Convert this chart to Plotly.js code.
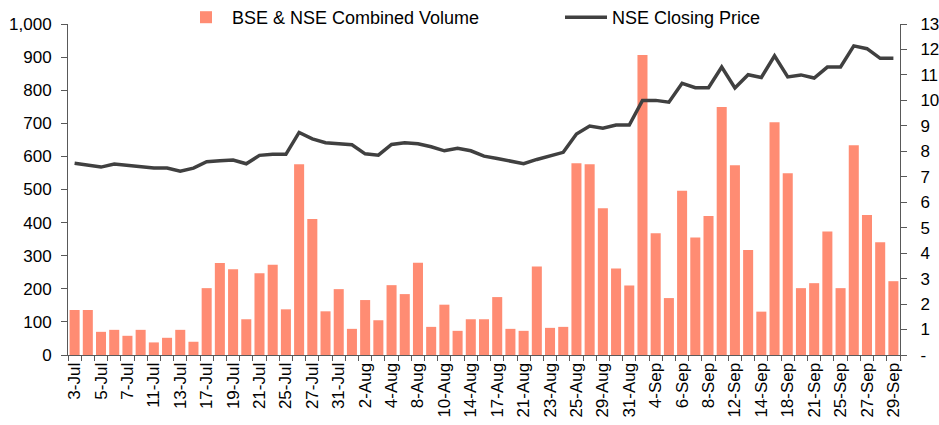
<!DOCTYPE html>
<html><head><meta charset="utf-8">
<script src="https://cdn.plot.ly/plotly-3.0.1.min.js"></script>
<style>body{margin:0;background:#fff}#chart{width:939px;height:425px}</style>
</head><body><div id="chart"></div>
<script>
const dates = ["3-Jul","4-Jul","5-Jul","6-Jul","7-Jul","10-Jul","11-Jul","12-Jul","13-Jul","14-Jul",
"17-Jul","18-Jul","19-Jul","20-Jul","21-Jul","24-Jul","25-Jul","26-Jul","27-Jul","28-Jul",
"31-Jul","1-Aug","2-Aug","3-Aug","4-Aug","7-Aug","8-Aug","9-Aug","10-Aug","11-Aug",
"14-Aug","16-Aug","17-Aug","18-Aug","21-Aug","22-Aug","23-Aug","24-Aug","25-Aug","28-Aug",
"29-Aug","30-Aug","31-Aug","1-Sep","4-Sep","5-Sep","6-Sep","7-Sep","8-Sep","11-Sep",
"12-Sep","13-Sep","14-Sep","15-Sep","18-Sep","20-Sep","21-Sep","22-Sep","25-Sep","26-Sep",
"27-Sep","28-Sep","29-Sep"];
const volume = [136,136,70,76,58,76,38,52,76,40,
202,278,259,108,247,273,138,576,411,132,
199,79,166,105,211,184,279,85,152,73,
108,108,175,79,73,267,82,85,579,576,
443,261,210,906,368,172,496,355,420,749,
573,317,131,703,549,202,217,373,202,634,
423,341,223];
const price = [7.53,7.45,7.38,7.50,7.45,7.38,7.34,7.34,7.22,7.34,
7.59,7.63,7.66,7.51,7.84,7.88,7.88,8.74,8.49,8.34,
8.30,8.26,7.90,7.85,8.27,8.34,8.30,8.18,8.02,8.12,
8.02,7.81,7.72,7.60,7.51,7.68,7.81,7.96,8.68,8.99,
8.91,9.03,9.03,10.0,10.0,9.93,10.67,10.5,10.5,11.31,
10.49,11.01,10.9,11.75,10.92,11.0,10.88,11.31,11.31,12.14,
12.03,11.65,11.65];
const volTicks = [0,100,200,300,400,500,600,700,800,900,1000];
const priceTicks = [0,1,2,3,4,5,6,7,8,9,10,11,12,13];
const priceTickText = ["-","1","2","3","4","5","6","7","8","9","10","11","12","13"];
const tickText = dates.map((d,i)=> i%2===0 ? d : "");

const fam = "Liberation Sans, Arial, sans-serif";
const traces = [
 {type:"bar", x:dates, y:volume, name:"BSE & NSE Combined Volume",
  marker:{color:"#FF8C73"}, yaxis:"y", legend:"legend"},
 {type:"scatter", mode:"lines", x:dates, y:price, name:"NSE Closing Price",
  line:{color:"#404040", width:3.5}, yaxis:"y2", legend:"legend2"}
];
const legCommon = {orientation:"h", xref:"paper", yref:"paper", yanchor:"top",
  xanchor:"left", y:1.0755, font:{family:fam, size:18, color:"#000"},
  bgcolor:"rgba(0,0,0,0)", itemwidth:42};
const layout = {
 width:939, height:425, margin:{l:68, r:39, t:24, b:70, autoexpand:false},
 paper_bgcolor:"#fff", plot_bgcolor:"#fff", font:{family:fam, size:17, color:"#000"},
 bargap:0.24, showlegend:true,
 legend:Object.assign({}, legCommon, {x:(180-68)/832}),
 legend2:Object.assign({}, legCommon, {x:(560-68)/832}),
 xaxis:{type:"category", tickmode:"array", tickvals:dates, ticktext:tickText,
  tickangle:-90, tickson:"boundaries", ticks:"outside", ticklen:5, tickcolor:"#595959",
  showline:true, linecolor:"#595959", linewidth:1, showgrid:false, zeroline:false,
  tickfont:{family:fam, size:17}, range:[-0.5, dates.length-0.5]},
 yaxis:{range:[0,1000], tickmode:"array", tickvals:volTicks, tickformat:",d",
  ticks:"outside", ticklen:6, tickcolor:"#595959", showline:true, linecolor:"#595959",
  showgrid:false, zeroline:false, tickfont:{family:fam, size:17}, ticklabelstandoff:6},
 yaxis2:{range:[0,13], overlaying:"y", side:"right", tickmode:"array",
  tickvals:priceTicks, ticktext:priceTickText, ticks:"outside", ticklen:6,
  tickcolor:"#595959", showline:true, linecolor:"#595959", showgrid:false,
  zeroline:false, tickfont:{family:fam, size:17}, ticklabelstandoff:10}
};
Plotly.newPlot("chart", traces, layout, {displayModeBar:false, staticPlot:true});
</script></body></html>
